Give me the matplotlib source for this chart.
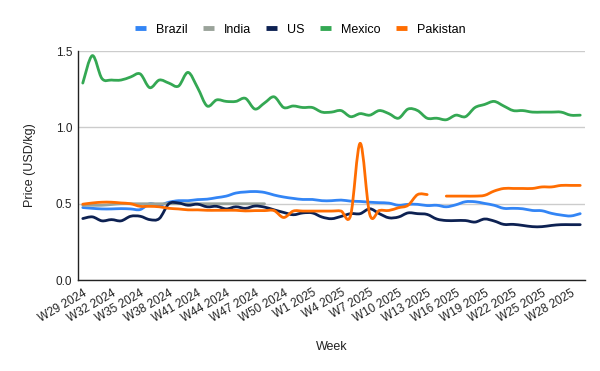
"""Weekly price per kg by origin, smoothed lines in the Google Charts style."""

import matplotlib
matplotlib.use("Agg")
import matplotlib.pyplot as plt
from matplotlib.path import Path
from matplotlib.patches import PathPatch
from matplotlib.lines import Line2D

plt.rcParams["font.family"] = ["Liberation Sans", "DejaVu Sans"]

# W29 2024 .. W29 2025 (2024 has 52 ISO weeks)
WEEKS = [f"W{w} 2024" for w in range(29, 53)] + [f"W{w} 2025" for w in range(1, 30)]

BRAZIL = [0.475, 0.47, 0.466, 0.466, 0.468, 0.466, 0.462, 0.50, 0.49, 0.51,
          0.52, 0.52, 0.527, 0.53, 0.54, 0.55, 0.57, 0.577, 0.58, 0.574,
          0.557, 0.544, 0.535, 0.528, 0.528, 0.52, 0.52, 0.524, 0.517, 0.515,
          0.51, 0.507, 0.504, 0.49, 0.496, 0.496, 0.488, 0.49, 0.48, 0.493,
          0.513, 0.513, 0.502, 0.49, 0.47, 0.47, 0.467, 0.456, 0.454, 0.437,
          0.426, 0.42, 0.435]
INDIA = [0.49, 0.49, 0.49, 0.495, 0.5, 0.5, 0.5, 0.5, 0.5, 0.5,
         0.5, 0.5, 0.5, 0.5, 0.5, 0.5, 0.5, 0.5, 0.5, 0.5] + [None] * 33
US = [0.403, 0.414, 0.388, 0.396, 0.388, 0.418, 0.418, 0.396, 0.403, 0.50,
      0.505, 0.49, 0.497, 0.48, 0.483, 0.466, 0.48, 0.47, 0.485, 0.478,
      0.46, 0.443, 0.428, 0.44, 0.44, 0.413, 0.402, 0.417, 0.435, 0.435,
      0.467, 0.435, 0.408, 0.413, 0.44, 0.435, 0.43, 0.40, 0.39, 0.39,
      0.39, 0.38, 0.40, 0.387, 0.365, 0.365, 0.358, 0.35, 0.35, 0.358,
      0.363, 0.363, 0.363]
MEXICO = [1.29, 1.47, 1.32, 1.31, 1.31, 1.33, 1.35, 1.26, 1.31, 1.29,
          1.27, 1.36, 1.26, 1.14, 1.18, 1.17, 1.17, 1.19, 1.12, 1.16,
          1.20, 1.13, 1.14, 1.13, 1.13, 1.10, 1.10, 1.11, 1.07, 1.09,
          1.08, 1.11, 1.09, 1.06, 1.12, 1.11, 1.06, 1.06, 1.05, 1.08,
          1.07, 1.13, 1.15, 1.17, 1.14, 1.11, 1.11, 1.10, 1.10, 1.10,
          1.10, 1.08, 1.08]
PAKISTAN = [0.497, 0.505, 0.51, 0.51, 0.505, 0.50, 0.483, 0.483, 0.48, 0.47,
            0.466, 0.46, 0.46, 0.457, 0.457, 0.457, 0.457, 0.453, 0.455, 0.455,
            0.455, 0.41, 0.452, 0.452, 0.452, 0.452, 0.452, 0.452, 0.424, 0.896,
            0.43, 0.456, 0.456, 0.474, 0.49, 0.56, 0.56, None, 0.55, 0.55,
            0.55, 0.55, 0.555, 0.583, 0.60, 0.60, 0.60, 0.60, 0.61, 0.61,
            0.62, 0.62, 0.62]

SERIES = [
    ("Brazil", BRAZIL, "#3385f5"),
    ("India", INDIA, "#9aa39a"),
    ("US", US, "#0d2152"),
    ("Mexico", MEXICO, "#34a853"),
    ("Pakistan", PAKISTAN, "#ff6d01"),
]


def smooth_path(xs, ys, t=1 / 6):
    """Catmull-Rom through the points, as cubic Bezier segments."""
    verts = [(xs[0], ys[0])]
    codes = [Path.MOVETO]
    n = len(xs)
    for i in range(n - 1):
        x0, y0 = (xs[i - 1], ys[i - 1]) if i > 0 else (xs[i], ys[i])
        x1, y1 = xs[i], ys[i]
        x2, y2 = xs[i + 1], ys[i + 1]
        x3, y3 = (xs[i + 2], ys[i + 2]) if i + 2 < n else (x2, y2)
        verts += [(x1 + (x2 - x0) * t, y1 + (y2 - y0) * t),
                  (x2 - (x3 - x1) * t, y2 - (y3 - y1) * t),
                  (x2, y2)]
        codes += [Path.CURVE4] * 3
    return Path(verts, codes)


def segments(values):
    seg = []
    for i, v in enumerate(values):
        if v is None:
            if seg:
                yield seg
            seg = []
        else:
            seg.append((i, v))
    if seg:
        yield seg


fig = plt.figure(figsize=(6.0, 3.71), dpi=100)
ax = fig.add_axes([0.13, 0.245, 0.845, 0.6175])

for name, values, color in SERIES:
    for seg in segments(values):
        xs = [p[0] for p in seg]
        ys = [p[1] for p in seg]
        if len(xs) == 1:
            ax.plot(xs, ys, color=color, lw=2)
            continue
        ax.add_patch(PathPatch(smooth_path(xs, ys), facecolor="none",
                               edgecolor=color, lw=2, capstyle="round",
                               joinstyle="round", zorder=3))

ax.set_xlim(-0.5, len(WEEKS) - 0.5)
ax.set_ylim(0, 1.5)
ax.set_yticks([0, 0.5, 1.0, 1.5])
ax.set_yticklabels(["0.0", "0.5", "1.0", "1.5"])
ticks = list(range(0, len(WEEKS), 3))
ax.set_xticks(ticks)
ax.set_xticklabels([WEEKS[i] for i in ticks], rotation=30, ha="right",
                   rotation_mode="anchor")
ax.tick_params(axis="both", length=0, labelsize=8.5, colors="#222222", pad=4)
ax.tick_params(axis="x", pad=5)
ax.grid(axis="y", color="#cccccc", lw=1)
ax.set_axisbelow(True)
for side in ("top", "right"):
    ax.spines[side].set_visible(False)
for side in ("left", "bottom"):
    ax.spines[side].set_color("#222222")
    ax.spines[side].set_linewidth(1)

ax.set_xlabel("Week", fontsize=9, color="#222222", labelpad=12)
ax.set_ylabel("Price (USD/kg)", fontsize=9, color="#222222", labelpad=14)

handles = [Line2D([], [], color=c, lw=3.5, solid_capstyle="butt")
           for _, _, c in SERIES]
fig.legend(handles, [s[0] for s in SERIES], loc="center",
           bbox_to_anchor=(0.5, 0.92), ncol=5, frameon=False, fontsize=9,
           handlelength=0.9, handletextpad=0.8, columnspacing=1.2)

fig.savefig("out.png", dpi=100, facecolor="white")
